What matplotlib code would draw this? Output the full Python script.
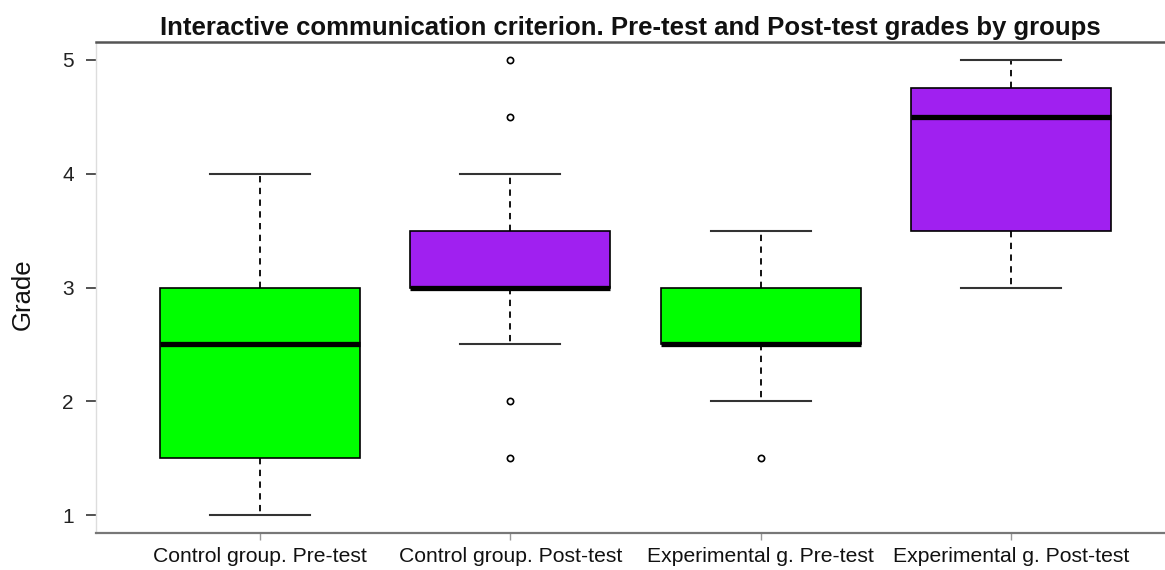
import matplotlib
matplotlib.use("Agg")
import matplotlib.pyplot as plt

categories = ["Control group. Pre-test", "Control group. Post-test",
              "Experimental g. Pre-test", "Experimental g. Post-test"]
whislo = [1.0, 2.5, 2.0, 3.0]
q1 = [1.5, 3.0, 2.5, 3.5]
med = [2.5, 3.0, 2.5, 4.5]
q3 = [3.0, 3.5, 3.0, 4.75]
whishi = [4.0, 4.0, 3.5, 5.0]
fliers = [[], [5.0, 4.5, 2.0, 1.5], [1.5], []]
box_colors = ["#00FF00", "#A020F0", "#00FF00", "#A020F0"]
yticks = [1, 2, 3, 4, 5]

plt.rcParams['font.family'] = ['Liberation Sans', 'DejaVu Sans']

fig = plt.figure(figsize=(11.65, 5.70), dpi=100)
ax = fig.add_axes([96/1165, 1 - 533/570, 1 - 96/1165, (533 - 42)/570])

stats = []
for i in range(len(categories)):
    stats.append(dict(whislo=whislo[i], q1=q1[i], med=med[i], q3=q3[i],
                      whishi=whishi[i], fliers=fliers[i], label=categories[i]))

positions = list(range(1, len(categories) + 1))
bp = ax.bxp(stats, positions=positions, widths=0.8, patch_artist=True,
            showfliers=True,
            boxprops=dict(edgecolor="black", linewidth=1.2),
            medianprops=dict(color="black", linewidth=3.8, solid_capstyle="butt"),
            whiskerprops=dict(color="black", linewidth=1.3, linestyle=(0, (3.5, 3))),
            capprops=dict(color="#333333", linewidth=1.5),
            flierprops=dict(marker="o", markersize=4.5, markerfacecolor="none",
                            markeredgecolor="black", markeredgewidth=1.2),
            capwidths=0.4)
for patch, c in zip(bp["boxes"], box_colors):
    patch.set_facecolor(c)

ax.set_xlim(1 - 164/250, 4 + 154/250)
ax.set_ylim(0.842, 5.158)
ax.set_yticks(yticks)
ax.set_yticklabels([str(t) for t in yticks])
ax.set_xticks(positions)
ax.set_xticklabels(categories)

ax.spines["right"].set_visible(False)
ax.spines["left"].set_color("#dddddd")
ax.spines["left"].set_linewidth(1.0)
ax.spines["top"].set_color("#555555")
ax.spines["top"].set_linewidth(1.8)
ax.spines["bottom"].set_color("#777777")
ax.spines["bottom"].set_linewidth(1.6)

ax.tick_params(axis="y", length=7, width=1.3, color="#444444", pad=9,
               labelsize=15, labelcolor="#222222")
ax.tick_params(axis="x", length=5, width=1.0, color="#999999", pad=5,
               labelsize=15.2, labelcolor="#111111")

ax.set_title("Interactive communication criterion. Pre-test and Post-test grades by groups",
             fontsize=18.5, fontweight="bold", pad=5, color="#111111")
fig.text(23/1165, 1 - 294/570, "Grade", rotation=90, ha="center", va="center",
         fontsize=18.5, color="#111111")

fig.savefig("out.png", dpi=100)
